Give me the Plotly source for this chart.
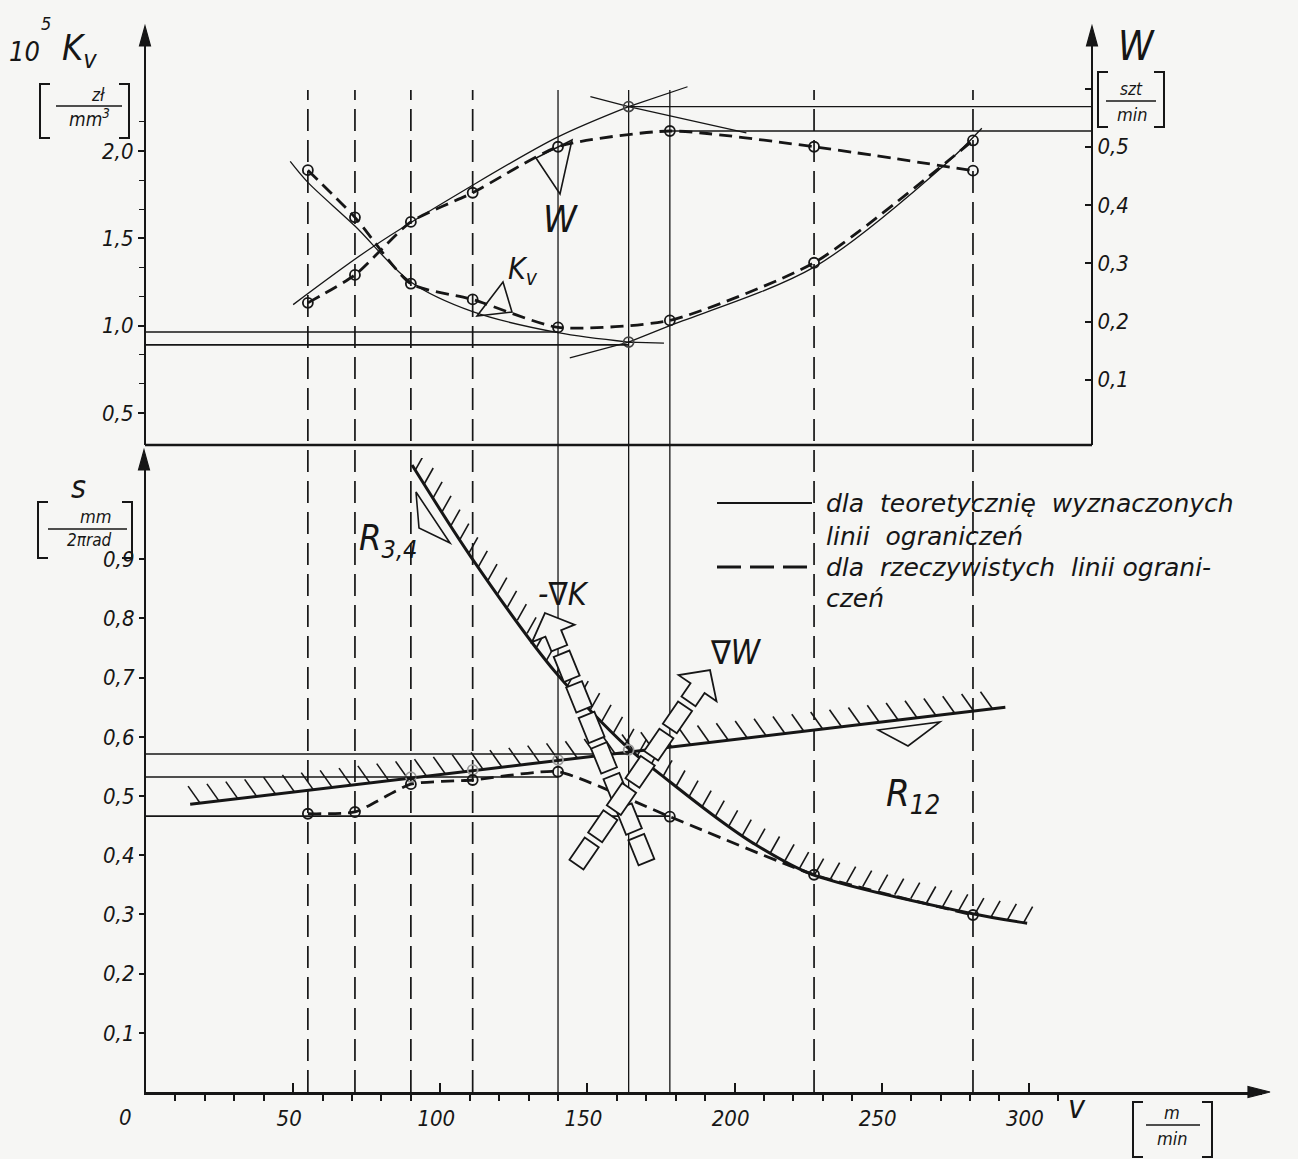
import math
import plotly.graph_objects as go

FIG_W, FIG_H = 1298, 1159
INK = "#161616"
BG = "#f6f6f4"
FONT = "DejaVu Sans Condensed, DejaVu Sans, sans-serif"
FONT_WIDE = "DejaVu Sans, sans-serif"

# ---------------- data ----------------
# vertical construction lines (cutting speeds v, m/min)
v_lines = [55, 71, 90, 111, 140, 164, 178, 227, 281]
v_line_dash = ["dash", "dash", "dash", "dash", "solid", "solid", "solid", "dash", "dash"]

# actual constraint lines (dashed curves with points)
v_act = [55, 71, 90, 111, 140, 178, 227, 281]
kv_act = [1.89, 1.62, 1.24, 1.15, 0.99, 1.03, 1.36, 2.06]
w_act = [0.232, 0.280, 0.371, 0.421, 0.500, 0.527, 0.500, 0.459]
s_act = [0.470, 0.473, 0.520, 0.527, 0.541, 0.465, 0.367, 0.299]

# theoretical curves (thin solid)
kv_th_a_v = [49, 55, 71, 90, 111, 140, 164]
kv_th_a = [1.94, 1.82, 1.57, 1.25, 1.08, 0.96, 0.906]
kv_th_b_v = [164, 178, 227, 272, 284]
kv_th_b = [0.906, 1.00, 1.335, 1.93, 2.13]
kv_tan_v = [144, 164, 176]
kv_tan = [0.815, 0.906, 0.90]
w_th_a_v = [50, 77, 110, 140, 164]
w_th_a = [0.229, 0.328, 0.431, 0.517, 0.569]
w_th_b_v = [151, 164, 204]
w_th_b = [0.586, 0.569, 0.524]
w_tan_v = [164, 184]
w_tan = [0.569, 0.603]

# horizontal reference levels
kv_ref = [0.964, 0.89]
kv_ref_end = [140, 164]
w_ref = [0.569, 0.527]
w_ref_start = [164, 178]
s_ref = [0.571, 0.532, 0.466]
s_ref_end = [164, 140, 178]

# bottom panel constraints
r12_v = [15, 292]
r12_s = [0.486, 0.650]
r34_v = [90.4, 110.4, 139.3, 163.4, 178, 195, 206.4, 225.6, 280, 299.4]
r34_s = [1.059, 0.904, 0.708, 0.583, 0.524, 0.459, 0.420, 0.369, 0.302, 0.285]
s_th_v = [90, 111, 140, 164]
s_th = [0.532, 0.544, 0.561, 0.578]

x_ticks = [50, 100, 150, 200, 250, 300]
kv_ticks = [0.5, 1.0, 1.5, 2.0]
w_ticks = [0.1, 0.2, 0.3, 0.4, 0.5]
w_minor = [0.6]
s_ticks = [0.1, 0.2, 0.3, 0.4, 0.5, 0.6, 0.7, 0.8, 0.9]

# ---------------- page geometry (pixels) ----------------
X0, XS = 146.0, 2.943          # px of v=0, px per m/min
X_END = 1262.0
TOP_B, TOP_T = 445.0, 36.0     # top panel bottom / top px
K05, KS = 413.0, 174.7         # px of Kv=0.5, px per unit
W0, WS = 438.0, 582.5          # px of W=0, px per unit
BOT_B, BOT_T = 1092.0, 458.0   # bottom panel
SS = 592.0                     # px per unit of s
W_AXIS_PX = 1092.0


def vx(v):
    return X0 + XS * v


def px_v(px):
    return (px - X0) / XS


def sy(s):
    return BOT_B - SS * s


def py_s(py):
    return (BOT_B - py) / SS


def P(px, py):
    return px / FIG_W, 1 - py / FIG_H


def path_px(pts, close=True):
    out = []
    for i, (x, y) in enumerate(pts):
        X, Y = P(x, y)
        out.append(("M" if i == 0 else "L") + f"{X:.5f},{Y:.5f}")
    return " ".join(out) + (" Z" if close else "")


fig = go.Figure()

dash_line = dict(color=INK, width=2.8, dash="13px,7px")
thin_line = dict(color=INK, width=1.3)
mk = dict(symbol="circle-open", size=10, color=INK, line=dict(width=1.8))

# ---------------- top panel ----------------
fig.add_trace(go.Scatter(x=kv_th_a_v, y=kv_th_a, mode="lines", line=dict(**thin_line, shape="spline", smoothing=0.9),
                         xaxis="x", yaxis="y", hoverinfo="skip"))
fig.add_trace(go.Scatter(x=kv_th_b_v, y=kv_th_b, mode="lines", line=dict(**thin_line, shape="spline", smoothing=0.9),
                         xaxis="x", yaxis="y", hoverinfo="skip"))
fig.add_trace(go.Scatter(x=kv_tan_v, y=kv_tan, mode="lines", line=thin_line, xaxis="x", yaxis="y", hoverinfo="skip"))
fig.add_trace(go.Scatter(x=w_th_a_v, y=w_th_a, mode="lines", line=dict(**thin_line, shape="spline", smoothing=0.9),
                         xaxis="x", yaxis="y2", hoverinfo="skip"))
fig.add_trace(go.Scatter(x=w_th_b_v, y=w_th_b, mode="lines", line=thin_line, xaxis="x", yaxis="y2", hoverinfo="skip"))
fig.add_trace(go.Scatter(x=w_tan_v, y=w_tan, mode="lines", line=thin_line, xaxis="x", yaxis="y2", hoverinfo="skip"))
fig.add_trace(go.Scatter(x=[kv_th_a_v[-1]], y=[kv_th_a[-1]], mode="markers", marker=dict(mk, color="#444"),
                         xaxis="x", yaxis="y", hoverinfo="skip"))
fig.add_trace(go.Scatter(x=[w_th_a_v[-1]], y=[w_th_a[-1]], mode="markers", marker=dict(mk, color="#444"),
                         xaxis="x", yaxis="y2", hoverinfo="skip"))

fig.add_trace(go.Scatter(x=v_act, y=kv_act, mode="lines+markers",
                         line=dict(**dash_line, shape="spline", smoothing=0.6), marker=mk,
                         xaxis="x", yaxis="y", name="Kv"))
fig.add_trace(go.Scatter(x=v_act, y=w_act, mode="lines+markers",
                         line=dict(**dash_line, shape="spline", smoothing=0.6), marker=mk,
                         xaxis="x", yaxis="y2", name="W"))

# ---------------- bottom panel ----------------
fig.add_trace(go.Scatter(x=r12_v, y=r12_s, mode="lines", line=dict(color=INK, width=3),
                         xaxis="x", yaxis="y3", name="R12"))
fig.add_trace(go.Scatter(x=r34_v, y=r34_s, mode="lines", line=dict(color=INK, width=3, shape="spline", smoothing=0.8),
                         xaxis="x", yaxis="y3", name="R3,4"))


def hatch(vs, ss, step, off, start=8.0):
    pts = [(vx(v), sy(s)) for v, s in zip(vs, ss)]
    hx, hy = [], []
    d_next = start
    acc = 0.0
    for (x1, y1), (x2, y2) in zip(pts[:-1], pts[1:]):
        seg = math.hypot(x2 - x1, y2 - y1)
        while d_next <= acc + seg:
            t = (d_next - acc) / seg
            px, py = x1 + t * (x2 - x1), y1 + t * (y2 - y1)
            hx += [px_v(px), px_v(px + off[0]), None]
            hy += [py_s(py), py_s(py + off[1]), None]
            d_next += step
        acc += seg
    return hx, hy


hx, hy = hatch(r12_v, r12_s, 19.0, (-12.0, -17.0), start=10)
fig.add_trace(go.Scatter(x=hx, y=hy, mode="lines", line=dict(color=INK, width=1.6),
                         xaxis="x", yaxis="y3", hoverinfo="skip"))
hx, hy = hatch(r34_v, r34_s, 16.5, (9.0, -16.0), start=6)
fig.add_trace(go.Scatter(x=hx, y=hy, mode="lines", line=dict(color=INK, width=1.6),
                         xaxis="x", yaxis="y3", hoverinfo="skip"))

fig.add_trace(go.Scatter(x=s_th_v, y=s_th, mode="markers",
                         marker=dict(symbol="circle-open", size=10, color="#9a9a9a", line=dict(width=1.8)),
                         xaxis="x", yaxis="y3", hoverinfo="skip"))
fig.add_trace(go.Scatter(x=v_act, y=s_act, mode="lines+markers",
                         line=dict(**dash_line, shape="spline", smoothing=0.5), marker=mk,
                         xaxis="x", yaxis="y3", name="s"))

# ---------------- shapes ----------------
shapes = []
y_top_lines = P(0, 90)[1]
y_bot_lines = P(0, BOT_B)[1]
for v, dsh in zip(v_lines, v_line_dash):
    shapes.append(dict(type="line", xref="x", yref="paper", x0=v, x1=v, y0=y_bot_lines, y1=y_top_lines,
                       line=dict(color=INK, width=1.7 if dsh == "dash" else 1.3,
                                 dash="22px,9px" if dsh == "dash" else "solid"), layer="below"))

w_axis_v = px_v(W_AXIS_PX)
for lvl, e in zip(kv_ref, kv_ref_end):
    shapes.append(dict(type="line", xref="x", yref="y", x0=0, x1=e, y0=lvl, y1=lvl, line=dict(color=INK, width=1.6)))
for lvl, s0 in zip(w_ref, w_ref_start):
    shapes.append(dict(type="line", xref="x", yref="y2", x0=s0, x1=w_axis_v, y0=lvl, y1=lvl,
                       line=dict(color=INK, width=1.3)))
for lvl, e in zip(s_ref, s_ref_end):
    shapes.append(dict(type="line", xref="x", yref="y3", x0=0, x1=e, y0=lvl, y1=lvl, line=dict(color=INK, width=1.6)))

# top panel bottom border
xa, ya = P(X0 - 1, TOP_B)
xb, _ = P(W_AXIS_PX, TOP_B)
shapes.append(dict(type="line", xref="paper", yref="paper", x0=xa, x1=xb, y0=ya, y1=ya,
                   line=dict(color=INK, width=2.6)))

# axis arrowheads
for tri in [[(145, 26), (139.5, 46), (150.5, 46)],
            [(144, 450), (138.5, 470), (149.5, 470)],
            [(W_AXIS_PX, 26), (W_AXIS_PX - 5.5, 46), (W_AXIS_PX + 5.5, 46)],
            [(1270, BOT_B), (1248, BOT_B - 5.5), (1248, BOT_B + 5.5)]]:
    shapes.append(dict(type="path", xref="paper", yref="paper", path=path_px(tri),
                       line=dict(color=INK, width=1.2), fillcolor=INK))


def hollow_arrow(start, tip, shaft_w=17, head_w=46, head_len=22, stem_len=16, dash=27, gap=6):
    sx_, sy_ = start
    tx, ty = tip
    L = math.hypot(tx - sx_, ty - sy_)
    ux, uy = (tx - sx_) / L, (ty - sy_) / L
    nx, ny = -uy, ux

    def pt(a, b):
        return (tx - a * ux + b * nx, ty - a * uy + b * ny)

    hw, sw = head_w / 2, shaft_w / 2
    polys = [[pt(0, 0), pt(head_len, hw), pt(head_len, sw), pt(head_len + stem_len, sw),
              pt(head_len + stem_len, -sw), pt(head_len, -sw), pt(head_len, -hw)]]
    a = head_len + stem_len + gap
    while a + dash <= L + 2:
        polys.append([pt(a, sw), pt(a + dash, sw), pt(a + dash, -sw), pt(a, -sw)])
        a += dash + gap
    return polys


for poly in hollow_arrow((648, 866), (545, 613)) + hollow_arrow((570, 874), (710, 670)):
    shapes.append(dict(type="path", xref="paper", yref="paper", path=path_px(poly),
                       line=dict(color=INK, width=1.8), fillcolor=BG))

# small pointer triangles
for tri in [[(536, 158), (560, 194), (572, 140)],
            [(477, 316), (503, 282), (512, 312)],
            [(416, 492), (419, 528), (450, 543)],
            [(878, 730), (940, 722), (908, 746)]]:
    shapes.append(dict(type="path", xref="paper", yref="paper", path=path_px(tri),
                       line=dict(color=INK, width=1.6)))


# unit brackets and fraction bars
def bracket(x, y0, y1, side):
    d = 10 if side == "l" else -10
    return path_px([(x + d, y0), (x, y0), (x, y1), (x + d, y1)], close=False)


for x, y0, y1, side in [(40, 84, 138, "l"), (129, 84, 138, "r"),
                        (1098, 72, 127, "l"), (1164, 72, 127, "r"),
                        (38, 502, 558, "l"), (132, 502, 558, "r"),
                        (1133, 1102, 1157, "l"), (1212, 1102, 1157, "r")]:
    shapes.append(dict(type="path", xref="paper", yref="paper", path=bracket(x, y0, y1, side),
                       line=dict(color=INK, width=2)))
for x0_, x1_, yy in [(56, 122, 106), (1106, 1156, 101), (48, 127, 529), (1146, 1200, 1125)]:
    a0, b0 = P(x0_, yy)
    a1, _ = P(x1_, yy)
    shapes.append(dict(type="line", xref="paper", yref="paper", x0=a0, x1=a1, y0=b0, y1=b0,
                       line=dict(color=INK, width=1.3)))

# legend samples
a0, b0 = P(717, 503)
a1, _ = P(812, 503)
shapes.append(dict(type="line", xref="paper", yref="paper", x0=a0, x1=a1, y0=b0, y1=b0,
                   line=dict(color=INK, width=1.8)))
a0, b0 = P(717, 567)
a1, _ = P(812, 567)
shapes.append(dict(type="line", xref="paper", yref="paper", x0=a0, x1=a1, y0=b0, y1=b0,
                   line=dict(color=INK, width=3.2, dash="24px,9px")))

# ---------------- annotations ----------------
ann = []


def text(px, py, t, size, italic=True, xanchor="center", yanchor="middle", family=FONT):
    X, Y = P(px, py)
    ann.append(dict(x=X, y=Y, xref="paper", yref="paper", text=t, showarrow=False,
                    xanchor=xanchor, yanchor=yanchor,
                    font=dict(family=family, size=size, color=INK, style="italic" if italic else "normal")))


text(24, 51, "10", 27)
text(46, 24, "5", 18)
text(60, 50, "K<sub>v</sub>", 36, xanchor="left")
text(98, 95, "zł", 17)
text(90, 118, "mm<sup>3</sup>", 19)
text(1136, 46, "W", 40)
text(1131, 89, "szt", 17)
text(1132, 115, "min", 18)
text(560, 219, "W", 38)
text(523, 270, "K<sub>v</sub>", 30)

text(78, 487, "s", 32)
text(96, 516, "mm", 18)
text(89, 540, "2πrad", 17)
text(388, 540, "R<sub>3,4</sub>", 36)
text(913, 795, "R<sub>12</sub>", 38)
text(563, 594, "-∇K", 32)
text(736, 652, "∇W", 33)

text(125, 1117, "0", 22)
text(1077, 1107, "v", 32)
text(1172, 1112, "m", 18)
text(1172, 1138, "min", 18)

text(824, 503, "dla  teoretycznię  wyznaczonych", 25, xanchor="left", family=FONT_WIDE)
text(824, 536, "linii  ograniczeń", 25, xanchor="left", family=FONT_WIDE)
text(824, 568, "dla  rzeczywistych  linii ograni-", 25, xanchor="left", family=FONT_WIDE)
text(824, 598, "czeń", 25, xanchor="left", family=FONT_WIDE)

tick_font = dict(family=FONT, size=22, color=INK, style="italic")


# ---------------- layout ----------------
def pdom(pb, pt):
    return [1 - pb / FIG_H, 1 - pt / FIG_H]


fig.update_layout(
    width=FIG_W, height=FIG_H,
    margin=dict(l=0, r=0, t=0, b=0),
    paper_bgcolor=BG, plot_bgcolor="rgba(0,0,0,0)",
    showlegend=False,
    separators=", ",
    font=dict(family=FONT, color=INK),
    xaxis=dict(domain=[X0 / FIG_W, X_END / FIG_W], range=[0, (X_END - X0) / XS],
               anchor="y3", showgrid=False, zeroline=False, showline=True, linecolor=INK, linewidth=2.6,
               tickvals=x_ticks, ticks="inside", ticklen=9, tickwidth=2, tickcolor=INK,
               ticklabelstandoff=5, ticklabelshift=-4, tickfont=tick_font, automargin=False,
               minor=dict(tickvals=[v for v in range(10, 320, 10) if v % 50 != 0],
                          ticks="outside", ticklen=6, tickwidth=1.6, tickcolor=INK)),
    yaxis=dict(domain=pdom(TOP_B, TOP_T), range=[0.5 - (TOP_B - K05) / KS, 0.5 + (K05 - TOP_T) / KS],
               anchor="x", position=X0 / FIG_W, showgrid=False, zeroline=False, showline=True,
               linecolor=INK, linewidth=2.2, tickvals=kv_ticks, tickformat=".1f", ticks="outside",
               ticklen=6, tickwidth=1.5, tickcolor=INK, tickfont=tick_font, automargin=False,
               minor=dict(tickvals=[0.5 + i / 6 for i in range(1, 11) if i % 3 != 0],
                          ticks="outside", ticklen=5, tickwidth=1.3, tickcolor=INK)),
    yaxis2=dict(overlaying="y", side="right", anchor="free", position=W_AXIS_PX / FIG_W,
                range=[(W0 - TOP_B) / WS, (W0 - TOP_T) / WS], showgrid=False, zeroline=False,
                showline=True, linecolor=INK, linewidth=2.2, tickvals=w_ticks, tickformat=".1f",
                ticks="inside", ticklen=6, tickwidth=1.5, tickcolor=INK, tickfont=tick_font,
                automargin=False,
                minor=dict(tickvals=w_minor, ticks="inside", ticklen=6, tickwidth=1.5, tickcolor=INK)),
    yaxis3=dict(domain=pdom(BOT_B, BOT_T), range=[0, (BOT_B - BOT_T) / SS], anchor="x",
                showgrid=False, zeroline=False, showline=True, linecolor=INK, linewidth=2.2,
                tickvals=s_ticks, tickformat=".1f", ticks="outside", ticklen=5, tickwidth=1.5,
                tickcolor=INK, tickfont=tick_font, automargin=False),
    shapes=shapes,
    annotations=ann,
)

fig.write_html("out.html", config={"displayModeBar": False},
               post_script="document.body.style.margin='0px';document.documentElement.style.overflow='hidden';")
